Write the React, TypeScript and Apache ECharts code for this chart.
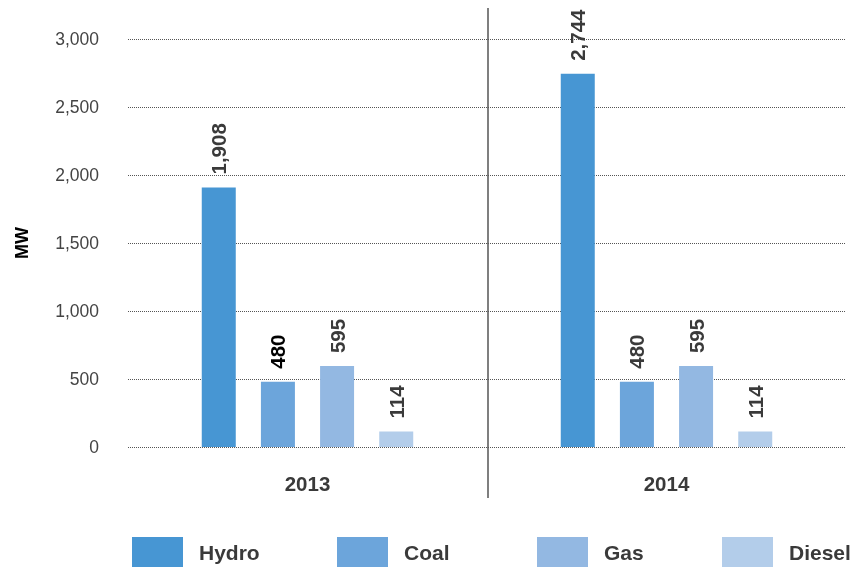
import React, { useEffect, useRef } from "react";
import * as echarts from "echarts";

const years = ["2013", "2014"];
const seriesNames = ["Hydro", "Coal", "Gas", "Diesel"];
const hydro = [1908, 2744];
const coal = [480, 480];
const gas = [595, 595];
const diesel = [114, 114];
const yTicks = [0, 500, 1000, 1500, 2000, 2500, 3000];
const colors = ["#4796d3", "#6ca5db", "#93b8e2", "#b3cdea"];
const legendLefts = [132, 337, 537, 722];

const FONT = "'Liberation Sans', Arial, Helvetica, sans-serif";

export default function App() {
  const ref = useRef<HTMLDivElement>(null);
  useEffect(() => {
    if (!ref.current) return;
    const chart = echarts.init(ref.current, undefined, { renderer: "svg" });
    const values = [hydro, coal, gas, diesel];
    const fmt = (v: number) => v.toLocaleString("en-US");
    chart.setOption({
      animation: false,
      textStyle: { fontFamily: FONT },
      grid: { left: 128, right: 16, top: 39, bottom: 121, containLabel: false },
      legend: seriesNames.map((name, i) => ({
        data: [name],
        left: legendLefts[i],
        top: 537,
        padding: 0,
        itemWidth: 51,
        itemHeight: 30,
        icon: "rect",
        textStyle: { fontFamily: FONT, fontSize: 21, fontWeight: "bold", color: "#3a3a3a", padding: [0, 0, 0, 11] },
      })),
      xAxis: {
        type: "category",
        data: years,
        axisLine: { show: false },
        axisTick: { show: false },
        axisLabel: { margin: 26, fontSize: 20.5, fontWeight: "bold", color: "#3a3a3a", fontFamily: FONT },
      },
      yAxis: {
        type: "value",
        min: yTicks[0],
        max: yTicks[yTicks.length - 1],
        interval: 500,
        name: "MW",
        nameLocation: "middle",
        nameGap: 97,
        nameTextStyle: { fontSize: 18, fontWeight: "bold", color: "#000", fontFamily: FONT },
        axisLine: { show: false },
        axisTick: { show: false },
        axisLabel: { margin: 29, fontSize: 17.5, color: "#444", fontFamily: FONT, formatter: (v: number) => fmt(v) },
        splitLine: { show: true, lineStyle: { type: [1, 1], color: "#555", width: 1 } },
      },
      graphic: [
        { type: "line", shape: { x1: 488, y1: 8, x2: 488, y2: 498 }, style: { stroke: "#555", lineWidth: 1.5 } },
      ],
      series: seriesNames.map((name, i) => ({
        name,
        type: "bar",
        barWidth: 34,
        barGap: "74%",
        itemStyle: { color: colors[i] },
        label: {
          show: true,
          position: "top",
          rotate: 90,
          align: "left",
          verticalAlign: "middle",
          distance: 13,
          fontSize: 20.5,
          fontWeight: "bold",
          color: "#3a3a3a",
          fontFamily: FONT,
          formatter: (p: any) => fmt(p.value),
        },
        data: values[i].map((v, j) =>
          name === "Coal" && j === 0 ? { value: v, label: { color: "#000" } } : v
        ),
      })),
    });
    return () => chart.dispose();
  }, []);
  return <div ref={ref} style={{ position: "fixed", left: 0, top: 0, width: 862, height: 568 }} />;
}
